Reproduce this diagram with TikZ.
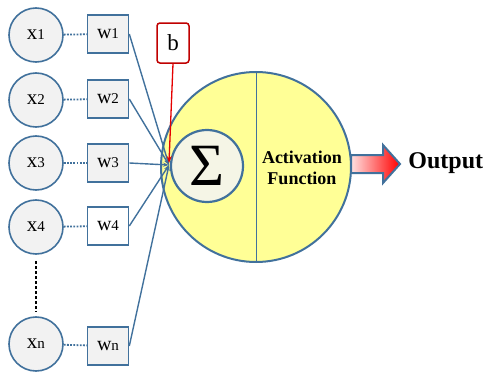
\documentclass[tikz,border=0pt]{standalone}
\usepackage{fontspec}
\setmainfont{Liberation Serif}
\usetikzlibrary{calc}
\usetikzlibrary{arrows.meta}
\definecolor{nodeblue}{RGB}{65,113,156}
\definecolor{inpfill}{RGB}{242,242,242}
\definecolor{bodyyellow}{RGB}{255,255,150}
\definecolor{sumfill}{RGB}{245,245,230}
\definecolor{biasred}{RGB}{192,0,0}
\tikzset{
	every path/.style={thick},
	align=center,
	inp/.style={
		draw=nodeblue,
		circle,
		fill=inpfill,
		line width=1.6pt,
		minimum size=54pt,
		inner sep=0pt,
		font=\fontsize{21}{23}\selectfont,
	},
	weight/.style={
		draw=nodeblue,
		rectangle,
		fill=inpfill,
		line width=1.6pt,
		minimum width=41pt,
		minimum height=38pt,
		inner sep=0pt,
		font=\fontsize{20}{22}\selectfont,
	},
	bias/.style={
		draw=biasred,
		rectangle,
		rounded corners=3pt,
		fill=white,
		line width=1.5pt,
		minimum width=32pt,
		minimum height=40pt,
		inner sep=0pt,
		font=\fontsize{23}{25}\selectfont,
	},
	link/.style={
		draw=nodeblue,
		line width=1.8pt,
		dash pattern=on 1.8pt off 1.4pt,
	},
	feed/.style={
		draw=nodeblue,
		line width=1.4pt,
		-{Stealth[length=6pt,width=4pt]},
	},
	feedbias/.style={
		draw=red!90!black,
		line width=1.3pt,
		-{Stealth[length=7pt,width=5pt]},
	},
	skipped/.style={
		black,
		line width=1.8pt,
		dash pattern=on 3.5pt off 1.5pt,
	},
}
\newcommand{\sub}[1]{{\fontsize{15}{17}\selectfont #1}}

\begin{document}
\begin{tikzpicture}[x=1pt,y=-1pt]
	\useasboundingbox (0,0) rectangle (483,372);

	% neuron body
	\node[circle, draw=nodeblue, fill=bodyyellow, line width=2pt, minimum size=190pt, inner sep=0pt] (body) at (256,167) {};
	\draw[nodeblue, line width=0.8pt] (body.north) -- (body.south);
	\node[circle, draw=nodeblue, fill=sumfill, line width=2.2pt, minimum size=72pt, inner sep=0pt,
		font=\fontsize{60}{62}\selectfont] (sum) at (207,166) {Σ};
	\node[font=\fontsize{18}{21}\selectfont\bfseries] (act) at (302,168) {Activation\\Function};
	\coordinate (conv) at (169,165);

	% inputs and weights
	\node[inp] (x1) at (36,35) {x\sub{1}};
	\node[inp] (x2) at (36,100) {x\sub{2}};
	\node[inp] (x3) at (36,163) {x\sub{3}};
	\node[inp] (x4) at (36,227) {x\sub{4}};
	\node[inp] (xn) at (36,344) {x\sub{n}};

	\node[weight] (w1) at (108,34) {w\sub{1}};
	\node[weight] (w2) at (108,99) {w\sub{2}};
	\node[weight] (w3) at (108,163) {w\sub{3}};
	\node[weight, fill=white] (w4) at (108,226) {w\sub{4}};
	\node[weight] (wn) at (108,346) {w\sub{n}};

	\node[bias] (b) at (173,43) {b};

	\draw[link] (x1) -- (w1);
	\draw[link] (x2) -- (w2);
	\draw[link] (x3) -- (w3);
	\draw[link] (x4) -- (w4);
	\draw[link] (xn) -- (wn);
	\draw[skipped, shorten <=6pt, shorten >=5pt] (x4.south) -- (xn.north);

	\draw[feed] (w1.east) -- (conv);
	\draw[feed] (w2.east) -- (conv);
	\draw[feed] (w3.east) -- (conv);
	\draw[feed] (w4.east) -- (conv);
	\draw[feed] (wn.east) -- (conv);
	\draw[feedbias] (b.south) -- ($(conv)+(0,-2)$);

	% output
	\node[font=\fontsize{24}{26}\selectfont\bfseries, anchor=west, inner sep=0pt] (out) at (408,163) {Output};
	\draw[draw=nodeblue, line width=2pt, left color=red!12, right color=red]
		($(body.east)+(-1,-12)$) -- ++(32,0) -- ++(0,-10) -- ++(17,19) -- ++(-17,19) -- ++(0,-10) -- ++(-32,0) -- cycle;

\end{tikzpicture}
\end{document}
